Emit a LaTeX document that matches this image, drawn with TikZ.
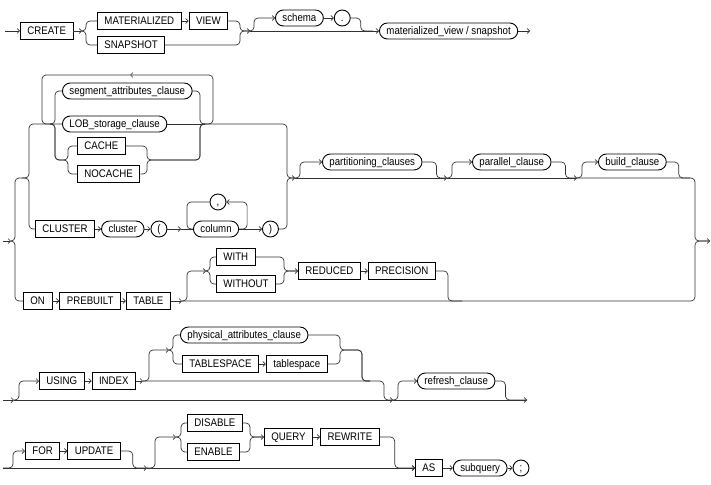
\documentclass[tikz,border=0pt]{standalone}
\usepackage{fontspec}
\setmainfont{Liberation Sans}[FakeStretch=0.88]
\usepackage{tikz}
\usetikzlibrary{arrows.meta, positioning}
\newcommand*{\rrfont}{\fontsize{11}{12}\selectfont}
\tikzstyle{block} = [line width=0.9pt, inner xsep=7pt, inner ysep=0pt, text height=8pt, text depth=1pt, font=\rrfont]
\tikzstyle{kw} = [draw, block, rectangle, minimum height=17pt]
\tikzstyle{nt} = [draw, block, rectangle, rounded corners=8pt, minimum height=16pt]
\tikzstyle{sym} = [draw, block, circle, inner xsep=0pt, minimum size=16pt]
\tikzstyle{rail} = [draw, black!80, line width=0.7pt, rounded corners=4pt]
\tikzstyle{arr} = [rail, -{Straight Barb[length=2.5pt, width=5pt]}]

\begin{document}
\begin{tikzpicture}[node distance=7pt, x=1pt, y=-1pt]
    \useasboundingbox (0,0) rectangle (711,484);

    % Row 1.
    \node (create) [kw, anchor=west] at (20,31) {CREATE};
    \node (matz) [kw, anchor=west] at (97,21) {MATERIALIZED};
    \node (view) [kw, right=of matz] {VIEW};
    \node (snap) [kw, anchor=west] at (97,45) {SNAPSHOT};
    \node (schema) [nt, anchor=west] at (275,18) {schema};
    \node (dot) [sym, right=10pt of schema] {.};
    \node (mview) [nt, anchor=west] at (379,31) {materialized\_view / snapshot};
    \coordinate (r1s) at (5,31);
    \coordinate (c1a) at (82,31);
    \coordinate (c1L) at (86,31);
    \coordinate (c1R) at (240,31);
    \coordinate (c1b) at (250,31);
    \coordinate (c1c) at (373,31);
    \coordinate (r1e) at (530,31);

    \draw [arr] (r1s) -- (create);
    \draw [arr] (create) -- (c1a);
    \draw [rail] (c1a) -- (c1L) |- (matz.west);
    \draw [rail] (c1a) -- (c1L) |- (snap.west);
    \draw [arr] (matz) -- (view);
    \draw [arr] (view.east) -| (c1R) -- (c1b);
    \draw [rail] (snap.east) -| (c1R) -- (c1b);
    \draw [arr] (c1b) -- ++(4,0) |- (schema.west);
    \draw [arr] (schema) -- (dot);
    \draw [rail] (dot.east) -- ++(10,0) |- (c1c);
    \draw [arr] (c1b) -- (mview.west);
    \draw [arr] (mview) -- (r1e);

    % Row 2, first choice.
    \node (seg) [nt, anchor=west] at (62,91) {segment\_attributes\_clause};
    \node (lob) [nt, anchor=west] at (62,124) {LOB\_storage\_clause};
    \node (cache) [kw, anchor=west] at (77,146) {CACHE};
    \node (nocache) [kw, anchor=west] at (77,174) {NOCACHE};
    \node (clus) [kw, anchor=west] at (35,229) {CLUSTER};
    \node (cluster) [nt, right=6pt of clus] {cluster};
    \node (lpar) [sym, right=6pt of cluster] {(};
    \node (column) [nt, anchor=west] at (193,229) {column};
    \node (comma) [sym] at (218,202) {,};
    \node (rpar) [sym, anchor=west] at (262,229) {)};
    \coordinate (r2s) at (3,241);
    \coordinate (c2a) at (11,241);
    \coordinate (oL) at (15,241);
    \coordinate (a0) at (22,178);
    \coordinate (aL) at (29,178);
    \coordinate (lpL) at (42,124);
    \coordinate (lp1) at (50,124);
    \coordinate (bL) at (55,124);
    \coordinate (cgL) at (68,160);
    \coordinate (cgR) at (147,160);
    \coordinate (bR) at (200,124);
    \coordinate (lp2) at (205,124);
    \coordinate (lpt) at (130,75);
    \coordinate (cl0) at (181,229);
    \coordinate (clL) at (187,229);
    \coordinate (aR) at (287,178);
    \coordinate (c2c) at (295,178);

    \draw [arr] (r2s) -- (c2a);
    \draw [rail] (c2a) -- (oL) |- (a0) -- (aL) |- (lob.west);
    \draw [rail] (a0) -- (aL) |- (clus.west);
    \draw [rail] (lp1) -- (bL) |- (seg.west);
    \draw [rail] (lp1) -- (bL) |- (cgL) |- (cache.west);
    \draw [rail] (lp1) -- (bL) |- (cgL) |- (nocache.west);
    \draw [rail] (seg.east) -| (bR) -- (lp2);
    \draw [rail] (lob) -- (lp2);
    \draw [rail] (cache.east) -| (cgR) -| (bR) -- (lp2);
    \draw [rail] (nocache.east) -| (cgR) -| (bR) -- (lp2);
    \draw [arr] (lp2) -- ++(8,0) |- (lpt);
    \draw [rail] (lpt) -| (lpL) -- (lp1);
    \draw [arr] (lp2) -| (aR) -- (c2c);
    \draw [arr] (clus) -- (cluster);
    \draw [arr] (cluster) -- (lpar);
    \draw [arr] (lpar) -- (cl0);
    \draw [rail] (cl0) -- (column);
    \draw [arr] (column.east) -- ++(8,0) |- (comma.east);
    \draw [rail] (comma.west) -| (clL) -- (column.west);
    \draw [arr] (column) -- (rpar);
    \draw [rail] (rpar.east) -| (aR) -- (c2c);

    % Row 2, optional clauses.
    \node (part) [nt, anchor=west] at (322,162) {partitioning\_clauses};
    \node (par) [nt, anchor=west] at (472,162) {parallel\_clause};
    \node (build) [nt, anchor=west] at (598,162) {build\_clause};
    \coordinate (p1) at (447,178);
    \coordinate (p2) at (577,178);
    \coordinate (p3) at (690,178);
    \coordinate (oR) at (695,241);
    \coordinate (r2e) at (710,241);

    \draw [arr] (c2c) -- (p1);
    \draw [arr] (c2c) -- ++(5,0) |- (part.west);
    \draw [rail] (part.east) -- ++(14,0) |- (p1);
    \draw [arr] (p1) -- (p2);
    \draw [arr] (p1) -- ++(5,0) |- (par.west);
    \draw [rail] (par.east) -- ++(14,0) |- (p2);
    \draw [arr] (p2) -- ++(5,0) |- (build.west);
    \draw [rail] (build.east) -- ++(12,0) |- (p3);
    \draw [arr] (p2) -| (oR) -- (r2e);

    % Row 2, prebuilt table.
    \node (on) [kw, anchor=west] at (23,301) {ON};
    \node (prebuilt) [kw, right=of on] {PREBUILT};
    \node (table) [kw, right=5pt of prebuilt] {TABLE};
    \node (with) [kw, anchor=west] at (216,257) {WITH};
    \node (without) [kw, anchor=west] at (216,284) {WITHOUT};
    \node (reduced) [kw, anchor=west] at (298,271) {REDUCED};
    \node (precision) [kw, right=of reduced] {PRECISION};
    \coordinate (t0) at (182,301);
    \coordinate (w0) at (206,271);
    \coordinate (wL) at (210,271);
    \coordinate (wR) at (284,271);
    \coordinate (t1) at (462,301);

    \draw [rail] (c2a) -- (oL) |- (on.west);
    \draw [arr] (on) -- (prebuilt);
    \draw [arr] (prebuilt) -- (table);
    \draw [arr] (table) -- (t0);
    \draw [arr] (t0) -- ++(5,0) |- (w0);
    \draw [rail] (w0) -- (wL) |- (with.west);
    \draw [rail] (w0) -- (wL) |- (without.west);
    \draw [arr] (with.east) -| (wR) -- (reduced.west);
    \draw [rail] (without.east) -| (wR) -- (reduced.west);
    \draw [arr] (reduced) -- (precision);
    \draw [rail] (precision.east) -- ++(12,0) |- (t1);
    \draw [rail] (t0) -| (oR) -- (r2e);

    % Row 3.
    \node (using) [kw, anchor=west] at (39,381) {USING};
    \node (index) [kw, right=of using] {INDEX};
    \node (phys) [nt, anchor=west] at (180,335) {physical\_attributes\_clause};
    \node (tbsp) [kw, anchor=west] at (182,364) {TABLESPACE};
    \node (tbspv) [kw, right=of tbsp] {tablespace};
    \node (refresh) [nt, anchor=west] at (417,381) {refresh\_clause};
    \coordinate (r3s) at (3,400);
    \coordinate (r3a) at (14,400);
    \coordinate (u0) at (143,381);
    \coordinate (u1) at (169,350);
    \coordinate (uL) at (173,350);
    \coordinate (uR) at (340,350);
    \coordinate (u3) at (370,381);
    \coordinate (r3b) at (393,400);
    \coordinate (r3c) at (527,400);

    \draw [arr] (r3s) -- (r3a);
    \draw [arr] (r3a) -- ++(5,0) |- (using.west);
    \draw [arr] (using) -- (index);
    \draw [arr] (index) -- (u0);
    \draw [arr] (u0) -- ++(6,0) |- (u1);
    \draw [rail] (u1) -- (uL) |- (phys.west);
    \draw [rail] (u1) -- (uL) |- (tbsp.west);
    \draw [arr] (tbsp) -- (tbspv);
    \draw [rail] (phys.east) -| (uR) -- ++(22,0) |- (u3);
    \draw [rail] (tbspv.east) -| (uR) -- ++(22,0) |- (u3);
    \draw [rail] (u0) -- (u3) -- ++(14,0) |- (r3b);
    \draw [arr] (r3a) -- (r3b);
    \draw [arr] (r3b) -- ++(5,0) |- (refresh.west);
    \draw [rail] (refresh.east) -- ++(10,0) |- (r3c);
    \draw [arr] (r3b) -- (r3c);

    % Row 4.
    \node (for) [kw, anchor=west] at (25,451) {FOR};
    \node (update) [kw, right=of for] {UPDATE};
    \node (disable) [kw, anchor=west] at (187,423) {DISABLE};
    \node (enable) [kw, anchor=west] at (187,452) {ENABLE};
    \node (query) [kw, anchor=west] at (264,437) {QUERY};
    \node (rewrite) [kw, right=of query] {REWRITE};
    \node (as) [kw, anchor=west] at (415,468) {AS};
    \node (subq) [nt, right=10pt of as] {subquery};
    \node (semi) [sym, right=5pt of subq] {;};
    \coordinate (r4s) at (3,468);
    \coordinate (f1) at (147,468);
    \coordinate (d0) at (176,437);
    \coordinate (dL) at (181,437);
    \coordinate (dR) at (250,437);

    \draw [arr] (r4s) -- ++(10,0) |- (for.west);
    \draw [arr] (for) -- (update);
    \draw [rail] (update.east) -- ++(12,0) |- (f1);
    \draw [arr] (r4s) -- (f1);
    \draw [arr] (f1) -- ++(8,0) |- (d0);
    \draw [rail] (d0) -- (dL) |- (disable.west);
    \draw [rail] (d0) -- (dL) |- (enable.west);
    \draw [arr] (disable.east) -| (dR) -- (query.west);
    \draw [rail] (enable.east) -| (dR) -- (query.west);
    \draw [arr] (query) -- (rewrite);
    \draw [arr] (rewrite.east) -- ++(15,0) |- (as.west);
    \draw [arr] (f1) -- (as);
    \draw [arr] (as) -- (subq);
    \draw [arr] (subq) -- (semi);
\end{tikzpicture}
\end{document}
